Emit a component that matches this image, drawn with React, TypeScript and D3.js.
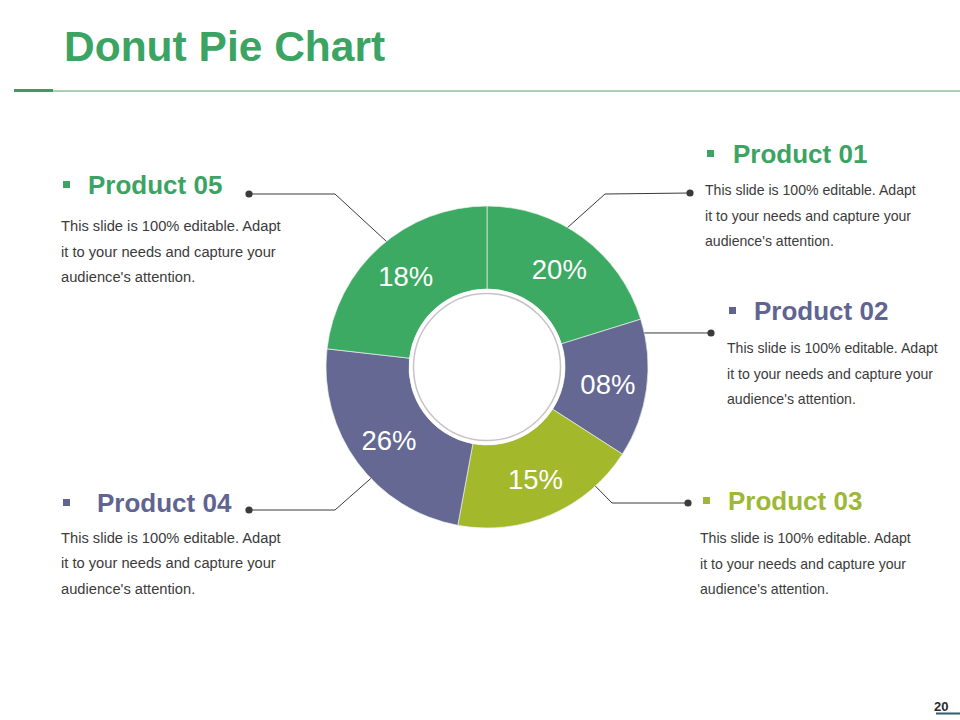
import React from "react";
import * as d3 from "d3";

const products = ["Product 01", "Product 02", "Product 03", "Product 04", "Product 05"];
// angular shares
const shares = [20.2, 13.9, 18.8, 23.9, 23.2];
// printed labels on the slices
const labels = ["20%", "08%", "15%", "26%", "18%"];
const colors = ["#3caa62", "#646893", "#a3b82b", "#646893", "#3caa62"];
const titleColors = ["#3ba463", "#5f6491", "#9db836", "#5f6491", "#3ba463"];
const bodyLines = [
  "This slide is 100% editable. Adapt",
  "it to your needs and capture your",
  "audience's attention.",
];

const W = 960;
const H = 720;
const cx = 487;
const cy = 367;
const R = 161;
const r = 78;

// layout of the callouts (per product index)
const callouts = [
  { edgeAngle: 30, elbow: [605, 194], dot: [690, 193], bullet: [707, 150], titleX: 733, titleY: 163, bodyX: 705, bodyY: 195, bodySize: 14.1 },
  { edgeAngle: 77.8, elbow: null, dot: [711, 333], bullet: [729, 307], titleX: 754, titleY: 320, bodyX: 727, bodyY: 353, bodySize: 14.1 },
  { edgeAngle: 137.7, elbow: [612, 503], dot: [688, 503], bullet: [703, 497], titleX: 728, titleY: 510, bodyX: 700, bodyY: 543, bodySize: 14.1 },
  { edgeAngle: 226.2, elbow: [335, 510], dot: [249, 510], bullet: [63, 499], titleX: 97, titleY: 512, bodyX: 61, bodyY: 542.5, bodySize: 14.7 },
  { edgeAngle: 321.3, elbow: [335, 194], dot: [249, 194], bullet: [63, 181], titleX: 88, titleY: 194, bodyX: 61, bodyY: 231, bodySize: 14.7 },
];

export default function App() {
  const pie = d3
    .pie<number>()
    .sort(null)
    .value((d) => d)
    .startAngle(0)
    .endAngle(2 * Math.PI);
  const arcs = pie(shares);
  const arcGen = d3.arc<d3.PieArcDatum<number>>().innerRadius(r).outerRadius(R);
  const labelArc = d3
    .arc<d3.PieArcDatum<number>>()
    .innerRadius(122)
    .outerRadius(122);

  const font = "'Liberation Sans', Arial, Helvetica, sans-serif";

  return (
    <div style={{ position: "absolute", left: 0, top: 0, width: W, height: H, background: "#fff" }}>
      <svg width={W} height={H} style={{ display: "block" }}>
        <rect width={W} height={H} fill="#ffffff" />
        {/* title */}
        <text x={64} y={61} fill="#3ba463" fontFamily={font} fontWeight="bold" fontSize={42.5}>
          Donut Pie Chart
        </text>
        <line x1={53} x2={960} y1={91} y2={91} stroke="#5c9c70" strokeWidth={1} />
        <line x1={14} x2={53} y1={90.6} y2={90.6} stroke="#3e9a5f" strokeWidth={3} />

        {/* donut */}
        <g transform={`translate(${cx},${cy})`}>
          {arcs.map((a, i) => (
            <path key={i} d={arcGen(a) || ""} fill={colors[i]} stroke="#e8f0ea" strokeWidth={0.7} />
          ))}
          <circle r={r} fill="#ffffff" />
          <circle r={73.5} fill="#ffffff" stroke="#c9c3c9" strokeWidth={1.5} />
          {arcs.map((a, i) => {
            const [lx, ly] = labelArc.centroid(a);
            return (
              <text
                key={"l" + i}
                x={lx}
                y={ly}
                dy="0.38em"
                textAnchor="middle"
                fill="#ffffff"
                fontFamily={font}
                fontSize={27.5}
              >
                {labels[i]}
              </text>
            );
          })}
        </g>

        {/* callouts */}
        {callouts.map((c, i) => {
          const ang = (c.edgeAngle * Math.PI) / 180;
          const ex = cx + R * Math.sin(ang);
          const ey = cy - R * Math.cos(ang);
          const pts: [number, number][] = [[ex, ey]];
          if (c.elbow) pts.push([c.elbow[0], c.elbow[1]]);
          pts.push([c.dot[0], c.elbow ? c.dot[1] : ey]);
          const line = d3.line()(pts) || "";
          return (
            <g key={"c" + i}>
              <path d={line} fill="none" stroke="#3a3a3a" strokeWidth={1} />
              <circle cx={c.dot[0]} cy={c.elbow ? c.dot[1] : ey} r={3.6} fill="#3a3a3a" />
              <rect x={c.bullet[0]} y={c.bullet[1]} width={7} height={7} fill={titleColors[i]} />
              <text x={c.titleX} y={c.titleY} fill={titleColors[i]} fontFamily={font} fontWeight="bold" fontSize={26}>
                {products[i]}
              </text>
              {bodyLines.map((t, j) => (
                <text
                  key={j}
                  x={c.bodyX}
                  y={c.bodyY + j * 25.5}
                  fill="#3b3b3b"
                  fontFamily={font}
                  fontSize={c.bodySize}
                >
                  {t}
                </text>
              ))}
            </g>
          );
        })}

        {/* page number */}
        <text x={934} y={711} fill="#2a2a2a" fontFamily={font} fontWeight="bold" fontSize={13}>
          20
        </text>
        <line x1={936} x2={960} y1={713.5} y2={713.5} stroke="#2b5d6b" strokeWidth={2} />
      </svg>
    </div>
  );
}
